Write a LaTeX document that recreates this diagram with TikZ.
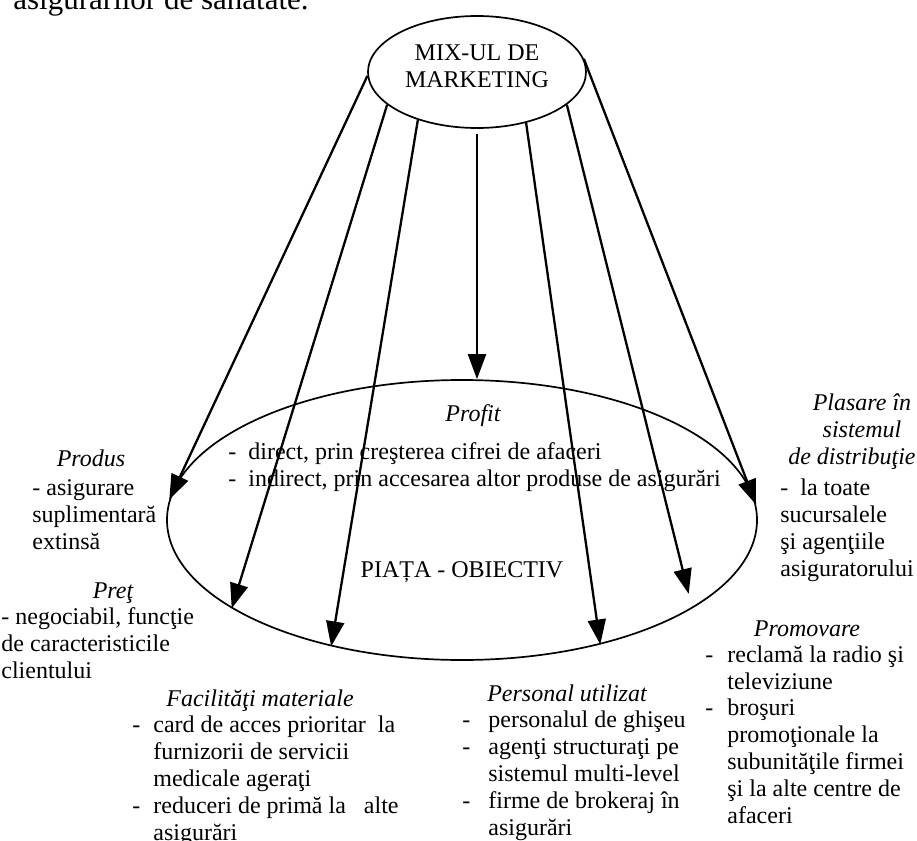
\documentclass[tikz,border=0pt]{standalone}
\usepackage{fontspec}
\setmainfont{Liberation Serif}
\usetikzlibrary{shapes.geometric,arrows.meta}

\newcommand{\dsh}[1]{\makebox[#1][l]{-}}
\newcommand{\indt}[1]{\hspace*{#1}}

\begin{document}
\begin{tikzpicture}[x=0.5pt,y=-0.5pt,
  every node/.style={inner sep=0pt},
  oval/.style={draw,ellipse,line width=0.85pt},
  arr/.style={-{Triangle[length=12.5pt,width=9pt]},line width=1.15pt},
  head/.style={anchor=base,align=center,font=\fontsize{12pt}{13.4pt}\selectfont\itshape},
  txt/.style={anchor=base west,align=left,font=\fontsize{12pt}{13.4pt}\selectfont}]
\useasboundingbox (0,0) rectangle (917,841);

\node[anchor=base west,font=\fontsize{15.5pt}{19pt}\selectfont] (hdr) at (13,9) {asigurărilor de sănătate.};

\node[oval,minimum width=109pt,minimum height=56pt] (mix) at (477,72) {};
\node[oval,minimum width=295pt,minimum height=140pt] (piata) at (462,520) {};
\node[txt,anchor=center,align=center] (mixtxt) at (477,66) {MIX-UL DE\\MARKETING};

% blocurile de text: punctul dat este linia de baza a ultimului rand
\node[head] (profit) at (473,421) {Profit};
\node[txt] (profitl) at (228,486) {\dsh{10pt}direct, prin creşterea cifrei de afaceri\\\dsh{10pt}indirect, prin accesarea altor produse de asigurări};
\node[txt,anchor=base] (obj) at (462,577) {PIAȚA - OBIECTIV};

\node[head] (produs) at (91,466) {Produs};
\node[txt] (produsl) at (32,549) {- asigurare\\suplimentară\\extinsă};

\node[head] (pret) at (113,598) {Preţ};
\node[txt] (pretl) at (1,678) {- negociabil, funcţie\\de caracteristicile\\clientului};

\node[head] (facil) at (260,706) {Facilităţi materiale};
\node[txt] (facill) at (132,840) {\dsh{10.5pt}card de acces prioritar\ \ la\\\indt{10.5pt}furnizorii de servicii\\\indt{10.5pt}medicale ageraţi\\\dsh{10.5pt}reduceri de primă la\ \ \ alte\\\indt{10.5pt}asigurări};

\node[head] (pers) at (567,701) {Personal utilizat};
\node[txt] (persl) at (462,835) {\dsh{13pt}personalul de ghişeu\\\dsh{13pt}agenţi structuraţi pe\\\indt{13pt}sistemul multi-level\\\dsh{13pt}firme de brokeraj în\\\indt{13pt}asigurări};

\node[head] (promo) at (807,636) {Promovare};
\node[txt] (promol) at (705,823) {\dsh{11pt}reclamă la radio şi\\\indt{11pt}televiziune\\\dsh{11pt}broşuri\\\indt{11pt}promoţionale la\\\indt{11pt}subunităţile firmei\\\indt{11pt}şi la alte centre de\\\indt{11pt}afaceri};

\node[head] (plas) at (862,437) {Plasare în\\sistemul};
\node[head,anchor=base east] (distr) at (916,464) {de distribuţie};
\node[txt] (plasl) at (780,576) {\dsh{10pt}la toate\\sucursalele\\şi agenţiile\\asiguratorului};

% sagetile
\draw[arr] (mix.182) -- (piata.176.5);
\draw[arr] (mix.200) -- (piata.201);
\draw[arr] (mix.219) -- (piata.224.5);
\draw[arr,shorten <=2.5pt] (mix.south) -- (mix.south |- piata.north);
\draw[arr] (mix.314) -- (piata.318);
\draw[arr,shorten >=7.5pt] (mix.340) -- (piata.339.3);
\draw[arr] (mix.7.5) -- (piata.3.5);
\end{tikzpicture}
\end{document}
